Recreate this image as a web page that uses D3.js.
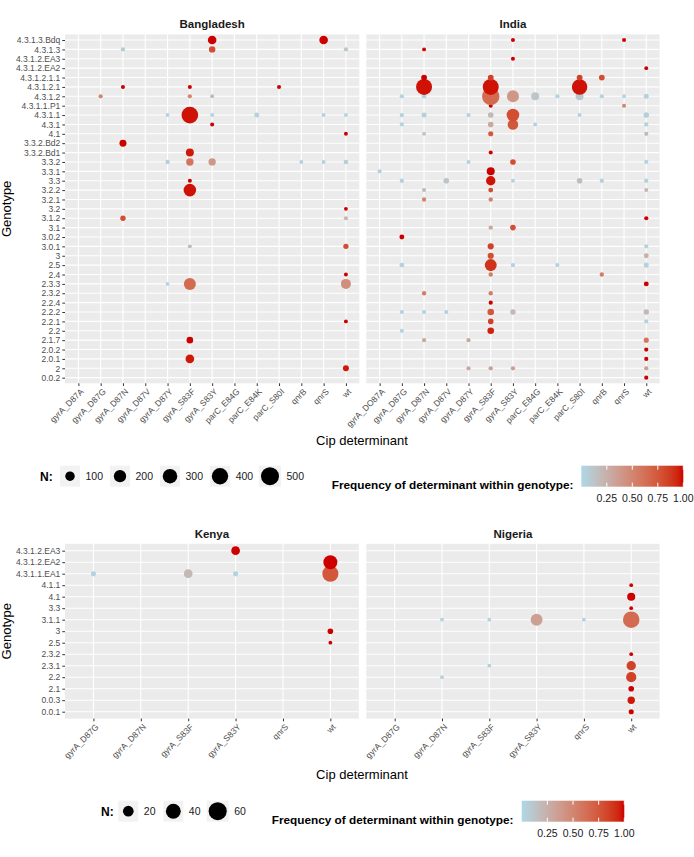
<!DOCTYPE html>
<html lang="en">
<head>
<meta charset="UTF-8">
<title>Cip determinants by genotype</title>
<style>
  body { margin: 0; padding: 0; background: #fff; font-family: "Liberation Sans", Arial, sans-serif; }
  svg text { font-family: "Liberation Sans", Arial, sans-serif; }
</style>
<script src="https://d3js.org/d3.v7.min.js"></script>
</head>
<body>
<div id="chart"></div>
<script>
// genotypes (top to bottom) for the two plots
const topGenotypes = ["4.3.1.3.Bdq", "4.3.1.3", "4.3.1.2.EA3", "4.3.1.2.EA2", "4.3.1.2.1.1", "4.3.1.2.1",
  "4.3.1.2", "4.3.1.1.P1", "4.3.1.1", "4.3.1", "4.1", "3.3.2.Bd2", "3.3.2.Bd1", "3.3.2", "3.3.1", "3.3",
  "3.2.2", "3.2.1", "3.2", "3.1.2", "3.1", "3.0.2", "3.0.1", "3", "2.5", "2.4", "2.3.3", "2.3.2", "2.2.4",
  "2.2.2", "2.2.1", "2.2", "2.1.7", "2.0.2", "2.0.1", "2", "0.0.2"];
const bottomGenotypes = ["4.3.1.2.EA3", "4.3.1.2.EA2", "4.3.1.1.EA1", "4.1.1", "4.1", "3.3", "3.1.1", "3",
  "2.5", "2.3.2", "2.3.1", "2.2", "2.1", "0.0.3", "0.0.1"];

// determinants on each facet
const bangladeshDets = ["gyrA_D87A", "gyrA_D87G", "gyrA_D87N", "gyrA_D87V", "gyrA_D87Y", "gyrA_S83F",
  "gyrA_S83Y", "parC_E84G", "parC_E84K", "parC_S80I", "qnrB", "qnrS", "wt"];
const indiaDets = ["gyrA_DO87A", "gyrA_D87G", "gyrA_D87N", "gyrA_D87V", "gyrA_D87Y", "gyrA_S83F",
  "gyrA_S83Y", "parC_E84G", "parC_E84K", "parC_S80I", "qnrB", "qnrS", "wt"];
const kenyaDets = ["gyrA_D87G", "gyrA_D87N", "gyrA_S83F", "gyrA_S83Y", "qnrS", "wt"];
const nigeriaDets = ["gyrA_D87G", "gyrA_D87N", "gyrA_S83F", "gyrA_S83Y", "qnrS", "wt"];

// [genotype, determinant, N, frequency]
const bangladesh = [
  ["4.3.1.3.Bdq", "gyrA_S83Y", 78, 1.0], ["4.3.1.3.Bdq", "qnrS", 78, 1.0],
  ["4.3.1.3", "gyrA_D87N", 7, 0.08], ["4.3.1.3", "gyrA_S83Y", 32, 0.8], ["4.3.1.3", "wt", 7, 0.1],
  ["4.3.1.2.1", "gyrA_D87N", 5, 1.0], ["4.3.1.2.1", "gyrA_S83F", 5, 1.0], ["4.3.1.2.1", "parC_S80I", 5, 1.0],
  ["4.3.1.2", "gyrA_D87G", 6, 0.5], ["4.3.1.2", "gyrA_S83F", 6, 0.5], ["4.3.1.2", "gyrA_S83Y", 4, 0.2],
  ["4.3.1.1", "gyrA_D87Y", 4, 0.02], ["4.3.1.1", "gyrA_S83F", 420, 0.98], ["4.3.1.1", "gyrA_S83Y", 5, 0.02],
  ["4.3.1.1", "parC_E84K", 13, 0.04], ["4.3.1.1", "qnrS", 4, 0.02], ["4.3.1.1", "wt", 4, 0.02],
  ["4.3.1", "gyrA_S83Y", 5, 1.0],
  ["4.1", "wt", 4, 1.0],
  ["3.3.2.Bd2", "gyrA_D87N", 42, 1.0],
  ["3.3.2.Bd1", "gyrA_S83F", 63, 0.97],
  ["3.3.2", "gyrA_D87Y", 7, 0.05], ["3.3.2", "gyrA_S83F", 50, 0.6], ["3.3.2", "gyrA_S83Y", 48, 0.4],
  ["3.3.2", "qnrB", 4, 0.03], ["3.3.2", "qnrS", 4, 0.03], ["3.3.2", "wt", 9, 0.06],
  ["3.3", "gyrA_S83F", 5, 1.0],
  ["3.2.2", "gyrA_S83F", 213, 0.98],
  ["3.2", "wt", 4, 1.0],
  ["3.1.2", "gyrA_D87N", 17, 0.8], ["3.1.2", "wt", 6, 0.2],
  ["3.0.1", "gyrA_S83F", 4, 0.2], ["3.0.1", "wt", 16, 0.8],
  ["2.4", "wt", 4, 1.0],
  ["2.3.3", "gyrA_D87Y", 4, 0.02], ["2.3.3", "gyrA_S83F", 188, 0.65], ["2.3.3", "wt", 117, 0.45],
  ["2.2.1", "wt", 4, 1.0],
  ["2.1.7", "gyrA_S83F", 35, 1.0],
  ["2.0.1", "gyrA_S83F", 78, 0.97],
  ["2", "wt", 25, 0.97]
];

const india = [
  ["4.3.1.3.Bdq", "gyrA_S83Y", 5, 1.0], ["4.3.1.3.Bdq", "qnrS", 5, 1.0],
  ["4.3.1.3", "gyrA_D87N", 4, 1.0],
  ["4.3.1.2.EA3", "gyrA_S83Y", 5, 1.0],
  ["4.3.1.2.EA2", "wt", 4, 1.0],
  ["4.3.1.2.1.1", "gyrA_D87N", 22, 1.0], ["4.3.1.2.1.1", "gyrA_S83F", 22, 0.85],
  ["4.3.1.2.1.1", "parC_S80I", 22, 0.85], ["4.3.1.2.1.1", "qnrB", 22, 0.8],
  ["4.3.1.2.1", "gyrA_D87N", 379, 0.98], ["4.3.1.2.1", "gyrA_S83F", 379, 0.98], ["4.3.1.2.1", "parC_S80I", 350, 0.98],
  ["4.3.1.2", "gyrA_D87G", 7, 0.02], ["4.3.1.2", "gyrA_D87N", 9, 0.03], ["4.3.1.2", "gyrA_S83F", 463, 0.65],
  ["4.3.1.2", "gyrA_S83Y", 188, 0.4], ["4.3.1.2", "parC_E84G", 63, 0.12], ["4.3.1.2", "parC_E84K", 7, 0.02],
  ["4.3.1.2", "parC_S80I", 60, 0.1], ["4.3.1.2", "qnrB", 7, 0.02], ["4.3.1.2", "qnrS", 4, 0.01],
  ["4.3.1.2", "wt", 13, 0.03],
  ["4.3.1.1.P1", "gyrA_S83F", 5, 1.0], ["4.3.1.1.P1", "qnrS", 5, 0.5],
  ["4.3.1.1", "gyrA_D87G", 7, 0.03], ["4.3.1.1", "gyrA_D87N", 13, 0.05], ["4.3.1.1", "gyrA_D87Y", 6, 0.02],
  ["4.3.1.1", "gyrA_S83F", 20, 0.2], ["4.3.1.1", "gyrA_S83Y", 213, 0.8], ["4.3.1.1", "parC_S80I", 5, 0.02],
  ["4.3.1.1", "wt", 20, 0.05],
  ["4.3.1", "gyrA_D87G", 6, 0.02], ["4.3.1", "gyrA_S83F", 20, 0.3], ["4.3.1", "gyrA_S83Y", 135, 0.75],
  ["4.3.1", "parC_E84G", 5, 0.03], ["4.3.1", "wt", 7, 0.03],
  ["4.1", "gyrA_D87N", 5, 0.1], ["4.1", "gyrA_S83F", 14, 0.75], ["4.1", "wt", 6, 0.2],
  ["3.3.2.Bd1", "gyrA_S83F", 5, 1.0],
  ["3.3.2", "gyrA_D87Y", 5, 0.03], ["3.3.2", "gyrA_S83Y", 20, 0.8], ["3.3.2", "wt", 6, 0.03],
  ["3.3.1", "gyrA_DO87A", 6, 0.03], ["3.3.1", "gyrA_S83F", 63, 1.0],
  ["3.3", "gyrA_D87G", 7, 0.03], ["3.3", "gyrA_D87V", 20, 0.12], ["3.3", "gyrA_S83F", 99, 0.98],
  ["3.3", "gyrA_S83Y", 5, 0.02], ["3.3", "parC_S80I", 20, 0.18], ["3.3", "qnrB", 7, 0.03], ["3.3", "wt", 7, 0.03],
  ["3.2.2", "gyrA_D87N", 5, 0.2], ["3.2.2", "gyrA_S83F", 12, 0.8], ["3.2.2", "wt", 5, 0.2],
  ["3.2.1", "gyrA_D87N", 7, 0.5], ["3.2.1", "gyrA_S83F", 7, 0.5],
  ["3.1.2", "wt", 6, 1.0],
  ["3.1", "gyrA_S83F", 7, 0.3], ["3.1", "gyrA_S83Y", 20, 0.8],
  ["3.0.2", "gyrA_D87G", 12, 1.0],
  ["3.0.1", "gyrA_S83F", 28, 0.85], ["3.0.1", "wt", 6, 0.03],
  ["3", "gyrA_S83F", 28, 0.8], ["3", "wt", 12, 0.25],
  ["2.5", "gyrA_D87G", 12, 0.03], ["2.5", "gyrA_S83F", 188, 0.9], ["2.5", "gyrA_S83Y", 7, 0.02],
  ["2.5", "parC_E84K", 6, 0.02], ["2.5", "wt", 14, 0.03],
  ["2.4", "gyrA_S83F", 7, 0.55], ["2.4", "qnrB", 7, 0.55],
  ["2.3.3", "wt", 12, 1.0],
  ["2.3.2", "gyrA_D87N", 7, 0.55], ["2.3.2", "gyrA_S83F", 7, 0.55],
  ["2.2.4", "gyrA_S83F", 6, 1.0],
  ["2.2.2", "gyrA_D87G", 6, 0.03], ["2.2.2", "gyrA_D87N", 6, 0.03], ["2.2.2", "gyrA_D87V", 6, 0.03],
  ["2.2.2", "gyrA_S83F", 35, 0.75], ["2.2.2", "gyrA_S83Y", 18, 0.2], ["2.2.2", "wt", 18, 0.2],
  ["2.2.1", "gyrA_S83F", 20, 0.85], ["2.2.1", "wt", 6, 0.03],
  ["2.2", "gyrA_D87G", 6, 0.03], ["2.2", "gyrA_S83F", 35, 0.95],
  ["2.1.7", "gyrA_D87N", 6, 0.3], ["2.1.7", "gyrA_D87Y", 6, 0.3], ["2.1.7", "wt", 14, 0.6],
  ["2.0.2", "wt", 6, 1.0],
  ["2.0.1", "wt", 6, 1.0],
  ["2", "gyrA_D87Y", 6, 0.3], ["2", "gyrA_S83F", 7, 0.35], ["2", "gyrA_S83Y", 7, 0.35], ["2", "wt", 7, 0.35],
  ["0.0.2", "wt", 6, 1.0]
];

const kenya = [
  ["4.3.1.2.EA3", "gyrA_S83Y", 13, 1.0],
  ["4.3.1.2.EA2", "wt", 35, 1.0],
  ["4.3.1.1.EA1", "gyrA_D87G", 4, 0.03], ["4.3.1.1.EA1", "gyrA_S83F", 13, 0.2],
  ["4.3.1.1.EA1", "gyrA_S83Y", 4, 0.03], ["4.3.1.1.EA1", "wt", 47, 0.75],
  ["3", "wt", 5, 1.0],
  ["2.5", "wt", 2, 1.0]
];

const nigeria = [
  ["4.1.1", "wt", 2, 1.0],
  ["4.1", "wt", 11, 1.0],
  ["3.3", "wt", 2, 1.0],
  ["3.1.1", "gyrA_D87N", 2, 0.03], ["3.1.1", "gyrA_S83F", 2, 0.03], ["3.1.1", "gyrA_S83Y", 25, 0.35],
  ["3.1.1", "qnrS", 2, 0.03], ["3.1.1", "wt", 50, 0.65],
  ["2.3.2", "wt", 2, 1.0],
  ["2.3.1", "gyrA_S83F", 2, 0.05], ["2.3.1", "wt", 15, 0.85],
  ["2.2", "gyrA_D87N", 2, 0.05], ["2.2", "wt", 18, 0.85],
  ["2.1", "wt", 5, 1.0],
  ["0.0.3", "wt", 9, 0.97],
  ["0.0.1", "wt", 4, 1.0]
];

const topSizeBreaks = [100, 200, 300, 400, 500];
const bottomSizeBreaks = [20, 40, 60];
const colourBreaks = [0.25, 0.50, 0.75, 1.00];

const width = 694, height = 857;
const tickCol = "#4D4D4D";

const svg = d3.select("#chart").append("svg")
  .attr("width", width).attr("height", height)
  .style("display", "block");

const colour = d3.scaleLinear().domain([0, 1])
  .range(["lightblue", "#CD0000"])
  .interpolate(d3.interpolateLab);

// size scales (radius grows with sqrt(N))
const topSize = d3.scaleSqrt().domain([0, 500]).range([1.25, 9.0]);
const bottomSize = d3.scaleSqrt().domain([0, 60]).range([0.3, 9.04]);

// gradient for colourbars
const grad = svg.append("defs").append("linearGradient").attr("id", "freqGrad");
d3.range(0, 1.0001, 0.05).forEach(t => {
  grad.append("stop").attr("offset", t).attr("stop-color", colour(t));
});

function drawPanel(opts) {
  const g = svg.append("g");
  const x = d3.scalePoint().domain(opts.dets).range([opts.x0, opts.x1]).padding(0.6);
  const y = d3.scalePoint().domain(opts.genos).range([opts.y0, opts.y1]).padding(0.6);

  g.append("rect")
    .attr("x", opts.x0).attr("y", opts.y0)
    .attr("width", opts.x1 - opts.x0).attr("height", opts.y1 - opts.y0)
    .attr("fill", "#EBEBEB");

  g.selectAll(".hgrid").data(opts.genos).enter().append("line")
    .attr("x1", opts.x0).attr("x2", opts.x1)
    .attr("y1", d => y(d)).attr("y2", d => y(d))
    .attr("stroke", "#fff").attr("stroke-width", 1.1);
  g.selectAll(".vgrid").data(opts.dets).enter().append("line")
    .attr("y1", opts.y0).attr("y2", opts.y1)
    .attr("x1", d => x(d)).attr("x2", d => x(d))
    .attr("stroke", "#fff").attr("stroke-width", 1.1);

  // lower rows first, so upper genotypes sit on top
  const pts = opts.pts.slice().sort((a, b) => opts.genos.indexOf(b[0]) - opts.genos.indexOf(a[0]));
  g.selectAll(".pt").data(pts).enter().append("circle")
    .attr("cx", d => x(d[1]))
    .attr("cy", d => y(d[0]))
    .attr("r", d => opts.size(d[2]))
    .attr("fill", d => colour(d[3]));

  // x axis
  const xa = g.append("g")
    .attr("transform", `translate(0,${opts.y1})`)
    .call(d3.axisBottom(x).tickSize(2.7).tickSizeOuter(0));
  xa.select(".domain").remove();
  xa.selectAll(".tick line").attr("stroke", "#333").attr("stroke-width", 1);
  xa.selectAll(".tick text")
    .attr("x", 0).attr("y", 0).attr("dy", "0.71em")
    .attr("transform", "translate(1,4.6) rotate(-45)")
    .attr("text-anchor", "end")
    .attr("font-size", 8.5)
    .attr("fill", tickCol);

  if (opts.yAxis) {
    const ya = g.append("g")
      .attr("transform", `translate(${opts.x0},0)`)
      .call(d3.axisLeft(y).tickSize(2.7).tickPadding(2).tickSizeOuter(0));
    ya.select(".domain").remove();
    ya.selectAll(".tick line").attr("stroke", "#333").attr("stroke-width", 1);
    ya.selectAll(".tick text").attr("font-size", 8.5).attr("fill", tickCol);
  }

  g.append("text")
    .attr("x", (opts.x0 + opts.x1) / 2).attr("y", opts.stripY)
    .attr("text-anchor", "middle")
    .attr("font-size", 11.5).attr("font-weight", "bold").attr("fill", "#1A1A1A")
    .text(opts.title);
}

function drawTitles(y0, y1, xTitleY) {
  svg.append("text")
    .attr("transform", `translate(11,${(y0 + y1) / 2}) rotate(-90)`)
    .attr("text-anchor", "middle")
    .attr("font-size", 13)
    .text("Genotype");
  svg.append("text")
    .attr("x", 362).attr("y", xTitleY)
    .attr("text-anchor", "middle")
    .attr("font-size", 13)
    .text("Cip determinant");
}

function drawSizeLegend(opts) {
  const g = svg.append("g");
  g.append("text")
    .attr("x", opts.x).attr("y", opts.cy + 4.3)
    .attr("font-size", 12).attr("font-weight", "bold")
    .text("N:");
  opts.breaks.forEach((b, i) => {
    const cx = opts.keyX[i];
    const r = opts.size(b);
    const kw = Math.max(20, 2 * r + 4);
    g.append("rect")
      .attr("x", cx - kw / 2).attr("y", opts.cy - 10.5)
      .attr("width", kw).attr("height", 21)
      .attr("fill", "#F2F2F2");
    g.append("circle").attr("cx", cx).attr("cy", opts.cy).attr("r", r).attr("fill", "#000");
    g.append("text")
      .attr("x", cx + kw / 2 + 5.5).attr("y", opts.cy + 3.8)
      .attr("font-size", 10.5).attr("fill", "#1A1A1A")
      .text(b);
  });
}

function drawColourLegend(opts) {
  const g = svg.append("g");
  const bx = d3.scaleLinear().domain([0, 1]).range([opts.x0, opts.x1]);
  g.append("text")
    .attr("x", opts.titleX).attr("y", opts.titleY)
    .attr("font-size", 11.8).attr("font-weight", "bold")
    .text("Frequency of determinant within genotype:");
  g.append("rect")
    .attr("x", opts.x0).attr("y", opts.y0)
    .attr("width", opts.x1 - opts.x0).attr("height", 21)
    .attr("fill", "url(#freqGrad)");
  colourBreaks.forEach(b => {
    g.append("line")
      .attr("x1", bx(b)).attr("x2", bx(b))
      .attr("y1", opts.y0).attr("y2", opts.y0 + 4)
      .attr("stroke", "#fff").attr("stroke-width", 1);
    g.append("line")
      .attr("x1", bx(b)).attr("x2", bx(b))
      .attr("y1", opts.y0 + 17).attr("y2", opts.y0 + 21)
      .attr("stroke", "#fff").attr("stroke-width", 1);
    g.append("text")
      .attr("x", bx(b)).attr("y", opts.y0 + 35.8)
      .attr("text-anchor", "middle")
      .attr("font-size", 10.5).attr("fill", "#1A1A1A")
      .text(b.toFixed(2));
  });
}

// ---- top plot: Bangladesh / India ----
const topY0 = 34.4, topY1 = 383.3;
drawPanel({ title: "Bangladesh", dets: bangladeshDets, genos: topGenotypes, pts: bangladesh,
  x0: 65, x1: 359.3, y0: topY0, y1: topY1, size: topSize, yAxis: true, stripY: 28 });
drawPanel({ title: "India", dets: indiaDets, genos: topGenotypes, pts: india,
  x0: 366.3, x1: 659.6, y0: topY0, y1: topY1, size: topSize, yAxis: false, stripY: 28 });
drawTitles(topY0, topY1, 444.5);
drawSizeLegend({ x: 40, cy: 476.2, breaks: topSizeBreaks, size: topSize,
  keyX: [70, 120, 170, 220, 270] });
drawColourLegend({ titleX: 331.7, titleY: 489, x0: 581.3, x1: 683.3, y0: 465.7 });

// ---- bottom plot: Kenya / Nigeria ----
const botY0 = 543.8, botY1 = 718.6;
drawPanel({ title: "Kenya", dets: kenyaDets, genos: bottomGenotypes, pts: kenya,
  x0: 65, x1: 358.8, y0: botY0, y1: botY1, size: bottomSize, yAxis: true, stripY: 537.5 });
drawPanel({ title: "Nigeria", dets: nigeriaDets, genos: bottomGenotypes, pts: nigeria,
  x0: 366.3, x1: 659.6, y0: botY0, y1: botY1, size: bottomSize, yAxis: false, stripY: 537.5 });
drawTitles(botY0, botY1, 779);
drawSizeLegend({ x: 101, cy: 811.2, breaks: bottomSizeBreaks, size: bottomSize,
  keyX: [128.3, 173.3, 217.7] });
drawColourLegend({ titleX: 271.7, titleY: 824, x0: 521.7, x1: 624.3, y0: 800.7 });
</script>
</body>
</html>
